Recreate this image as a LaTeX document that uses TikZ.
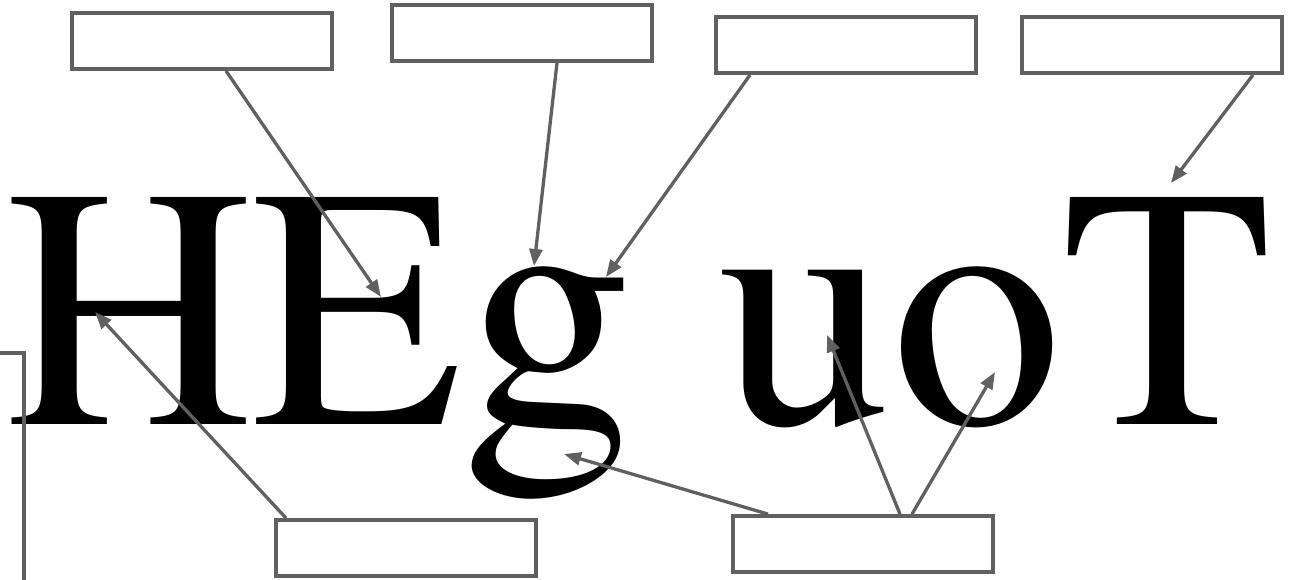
\documentclass[tikz,border=0pt]{standalone}
\usepackage[T1]{fontenc}
\usepackage{times}
\usepackage{tikz}
\usetikzlibrary{arrows.meta, positioning, calc}
\definecolor{linegray}{RGB}{96,96,96}
\tikzset{
  lblbox/.style={rectangle, draw=linegray, line width=3.8pt, fill=white,
                 minimum width=260pt, minimum height=56pt, inner sep=0pt},
  glyphs/.style={inner sep=0pt, anchor=base west,
                 font=\fontsize{343pt}{343pt}\selectfont},
  arr/.style={-{Triangle[length=17pt, width=13pt]}, draw=linegray,
              fill=linegray, line width=3.3pt},
  lead/.style={draw=linegray, line width=3.3pt},
}

\begin{document}
\begin{tikzpicture}[x=1pt, y=-1pt]
  \useasboundingbox (0,0) rectangle (1293,579);
  % the big word
  \node[glyphs] (word) at (5,424) {HEg uoT};
  % where the arrows point
  \coordinate (Hbar) at (95,312);
  \coordinate (Emid) at (381,297);
  \coordinate (gtop) at (534,266);
  \coordinate (gear) at (606,277);
  \coordinate (gloop) at (564,454);
  \coordinate (ustem) at (827,335);
  \coordinate (obowl) at (995,372);
  \coordinate (Ttop) at (1171,183);
  % label boxes
  \node[lblbox] (lblE) at (202,41) {};
  \node[lblbox] (lblg) at (522,33) {};
  \node[lblbox] (lblear) at (846,45) {};
  \node[lblbox] (lblT) at (1152,45) {};
  \node[lblbox] (lblH) at (406,548) {};
  \node[lblbox] (lbluo) at (863,544) {};
  % arrows
  \draw[arr] ([xshift=24pt]lblE.south) -- (Emid);
  \draw[arr] ([xshift=35pt]lblg.south) -- (gtop);
  \draw[arr] ([xshift=-96pt]lblear.south) -- (gear);
  \draw[arr] ([xshift=101pt]lblT.south) -- (Ttop);
  \draw[arr] ([xshift=-120pt]lblH.north) -- (Hbar);
  \draw[arr] ([xshift=-95pt]lbluo.north) -- (gloop);
  \draw[arr] ([xshift=37pt]lbluo.north) -- (ustem);
  \draw[arr] ([xshift=49pt]lbluo.north) -- (obowl);
  % lead coming in from the left edge
  \coordinate (leadin) at (-5,353);
  \coordinate (leadout) at (24,590);
  \draw[lead] (leadin) -| (leadout);
\end{tikzpicture}
\end{document}
